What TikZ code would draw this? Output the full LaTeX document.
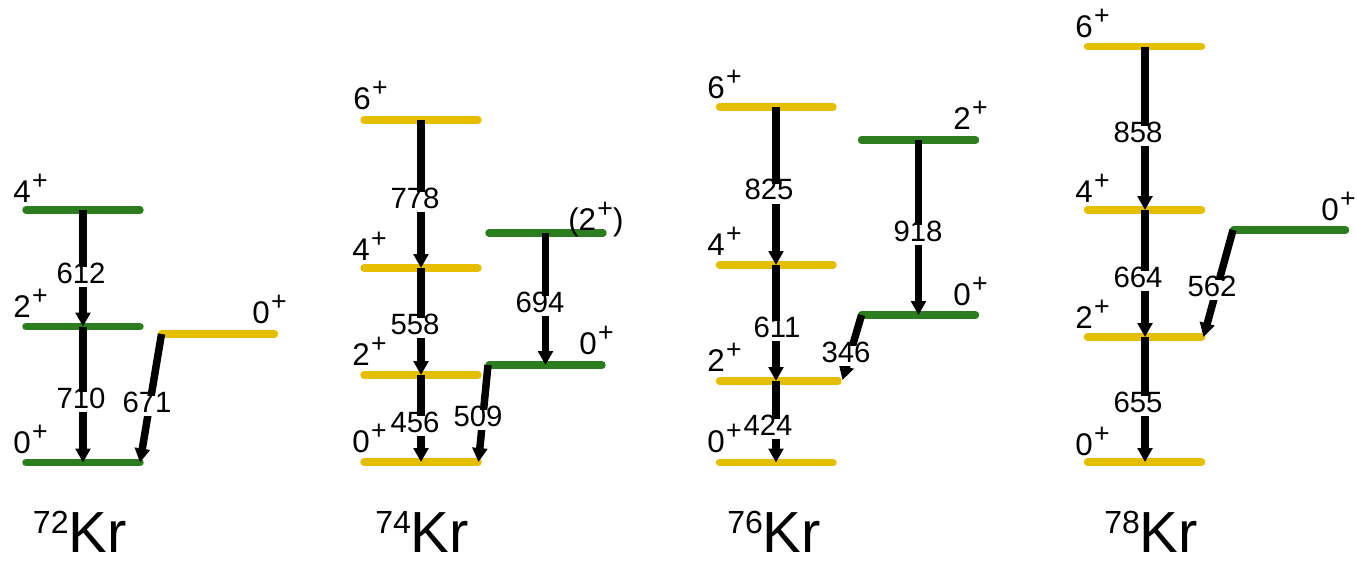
\documentclass[tikz,border=0pt]{standalone}
\usepackage{fontspec}
\setmainfont{Liberation Sans}
\usetikzlibrary{arrows.meta}
\definecolor{lvgreen}{RGB}{44,125,30}
\definecolor{lvyellow}{RGB}{230,190,0}
\tikzset{
  lvg/.style={draw=lvgreen,line width=5.6pt,line cap=round},
  lvy/.style={draw=lvyellow,line width=5.6pt,line cap=round},
  trans/.style={draw=black,line width=5.6pt,-{Triangle[length=10.5pt,width=11pt]}},
  tlab/.style={fill=white,inner xsep=2pt,inner ysep=2pt,text height=1em,text depth=0.1em,anchor=base,
    font=\fontsize{22pt}{24pt}\selectfont},
  spin/.style={inner sep=0pt,anchor=base west,font=\fontsize{23.5pt}{26pt}\selectfont},
  iso/.style={inner sep=0pt,anchor=base west,text depth=0pt}
}
% isotope label: mass number raised to the cap height of "Kr"
\newcommand{\kr}[1]{\raisebox{13.6pt}{\fontsize{24pt}{26pt}\selectfont #1}{\fontsize{43.5pt}{46pt}\selectfont Kr}}
% spin with positive parity
\newcommand{\jp}[1]{#1\kern1pt\raisebox{9.3pt}{\fontsize{20pt}{20pt}\selectfont +}}
\begin{document}
\begin{tikzpicture}[x=0.75pt,y=-0.75pt]
\useasboundingbox (0,0) rectangle (1357,561);

% ---------- 72Kr ----------
\draw[lvg] (26,210) -- (140,210);
\draw[lvg] (26,326.5) -- (140,326.5);
\draw[lvg] (26,462.5) -- (140,462.5);
\draw[lvy] (161.5,334) -- (274.5,334);
\coordinate (a4) at (83,210);
\coordinate (a2) at (83,326.5);
\coordinate (a0) at (83,462.5);
\coordinate (a0bs) at (161.5,334);
\coordinate (a0be) at (140,462.5);
\draw[trans] (a4) -- (a2);
\draw[trans] (a2) -- (a0);
\draw[trans] (a0bs) -- (a0be);
\node[tlab] (t612) at (81,283) {612};
\node[tlab] (t710) at (81,408) {710};
\node[tlab] (t671) at (147,412) {671};
\node[spin] (s72a) at (13,202) {\jp{4}};
\node[spin] (s72b) at (13,317) {\jp{2}};
\node[spin] (s72c) at (13,453) {\jp{0}};
\node[spin] (s72d) at (252,323) {\jp{0}};
\node[iso] (k72) at (32.7,552) {\kr{72}};

% ---------- 74Kr ----------
\draw[lvy] (364,120) -- (478,120);
\draw[lvy] (364,268) -- (478,268);
\draw[lvy] (364,375) -- (478,375);
\draw[lvy] (364,462) -- (478,462);
\draw[lvg] (489,233) -- (603,233);
\draw[lvg] (489,365) -- (602,365);
\coordinate (b6) at (421,120);
\coordinate (b4) at (421,268);
\coordinate (b2) at (421,375);
\coordinate (b0) at (421,462);
\coordinate (b2bs) at (545.5,233);
\coordinate (b2be) at (545.5,365);
\coordinate (b0bs) at (488,365);
\coordinate (b0be) at (478.5,462);
\draw[trans] (b6) -- (b4);
\draw[trans] (b4) -- (b2);
\draw[trans] (b2) -- (b0);
\draw[trans] (b2bs) -- (b2be);
\draw[trans] (b0bs) -- (b0be);
\node[tlab] (t778) at (415,208) {778};
\node[tlab] (t558) at (415,334) {558};
\node[tlab] (t456) at (415,432) {456};
\node[tlab] (t694) at (540,312) {694};
\node[tlab] (t509) at (478,426) {509};
\node[spin] (s74a) at (353,109) {\jp{6}};
\node[spin] (s74b) at (352,260) {\jp{4}};
\node[spin] (s74c) at (352,365) {\jp{2}};
\node[spin] (s74d) at (352,452) {\jp{0}};
\node[spin] (s74e) at (568,230) {(\jp{2})};
\node[spin] (s74f) at (579,354) {\jp{0}};
\node[iso] (k74) at (375,552) {\kr{74}};

% ---------- 76Kr ----------
\draw[lvy] (719.5,107) -- (833,107);
\draw[lvy] (719.5,265) -- (833,265);
\draw[lvy] (719.5,381) -- (838,381);
\draw[lvy] (719.5,462.5) -- (833,462.5);
\draw[lvg] (861.5,140) -- (975.5,140);
\draw[lvg] (861.5,315) -- (975.5,315);
\coordinate (c6) at (776,107);
\coordinate (c4) at (776,265);
\coordinate (c2) at (776,381);
\coordinate (c0) at (776,462.5);
\coordinate (c2bs) at (918.5,140);
\coordinate (c2be) at (918.5,315);
\coordinate (c0bs) at (861.5,315);
\coordinate (c0be) at (842.5,380);
\draw[trans] (c6) -- (c4);
\draw[trans] (c4) -- (c2);
\draw[trans] (c2) -- (c0);
\draw[trans] (c2bs) -- (c2be);
\draw[trans] (c0bs) -- (c0be);
\node[tlab] (t825) at (769,199.5) {825};
\node[tlab] (t611) at (777,337) {611};
\node[tlab] (t424) at (768,435) {424};
\node[tlab] (t918) at (918,241) {918};
\node[tlab] (t346) at (846,362) {346};
\node[spin] (s76a) at (707,98) {\jp{6}};
\node[spin] (s76b) at (707,255) {\jp{4}};
\node[spin] (s76c) at (707,371) {\jp{2}};
\node[spin] (s76d) at (707,452) {\jp{0}};
\node[spin] (s76e) at (953,129) {\jp{2}};
\node[spin] (s76f) at (953,305) {\jp{0}};
\node[iso] (k76) at (727,552) {\kr{76}};

% ---------- 78Kr ----------
\draw[lvy] (1087.5,46.5) -- (1201.5,46.5);
\draw[lvy] (1087.5,210) -- (1201.5,210);
\draw[lvy] (1087.5,337) -- (1201.5,337);
\draw[lvy] (1087.5,462) -- (1201.5,462);
\draw[lvg] (1233.5,230) -- (1345.5,230);
\coordinate (d6) at (1145,46.5);
\coordinate (d4) at (1145,210);
\coordinate (d2) at (1145,337);
\coordinate (d0) at (1145,462);
\coordinate (d0bs) at (1233,230);
\coordinate (d0be) at (1203.5,337);
\draw[trans] (d6) -- (d4);
\draw[trans] (d4) -- (d2);
\draw[trans] (d2) -- (d0);
\draw[trans] (d0bs) -- (d0be);
\node[tlab] (t858) at (1138,142) {858};
\node[tlab] (t664) at (1138,287) {664};
\node[tlab] (t655) at (1138,412) {655};
\node[tlab] (t562) at (1212,296) {562};
\node[spin] (s78a) at (1075,37) {\jp{6}};
\node[spin] (s78b) at (1075,202) {\jp{4}};
\node[spin] (s78c) at (1075,328) {\jp{2}};
\node[spin] (s78d) at (1075,455) {\jp{0}};
\node[spin] (s78e) at (1321,220) {\jp{0}};
\node[iso] (k78) at (1104,552) {\kr{78}};
\end{tikzpicture}
\end{document}
